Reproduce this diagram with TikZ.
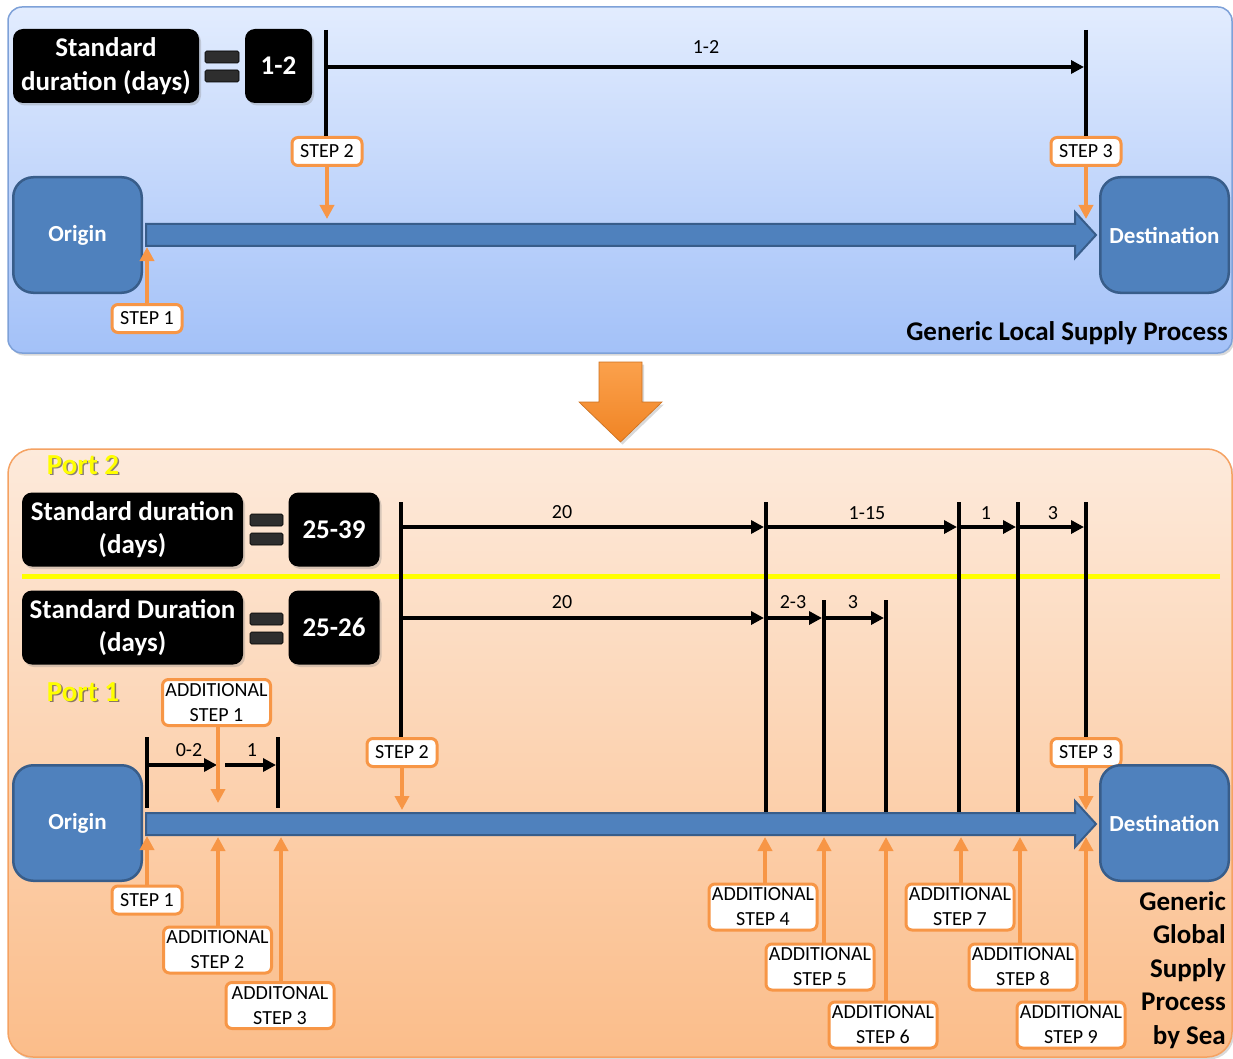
\documentclass[tikz,border=0pt]{standalone}
\usepackage{fontspec}
\setmainfont{Carlito}
\usetikzlibrary{arrows.meta,shadows,calc}

\definecolor{procblue}{HTML}{4F81BD}
\definecolor{procedge}{HTML}{385D8A}
\definecolor{steporange}{HTML}{F79646}
\definecolor{localtop}{HTML}{E2ECFE}
\definecolor{localbot}{HTML}{A3C1F8}
\definecolor{localedge}{HTML}{7EA1D8}
\definecolor{globaltop}{HTML}{FDEADB}
\definecolor{globalbot}{HTML}{FBBD8A}
\definecolor{globaledge}{HTML}{F5A262}
\definecolor{portyellow}{HTML}{FFFF00}
\definecolor{downtop}{HTML}{FBA14C}
\definecolor{downbot}{HTML}{F08424}

\tikzset{
  fsbig/.style={font=\bfseries\fontsize{27}{33.5}\selectfont},
  softshadow/.style={drop shadow={shadow xshift=2pt,shadow yshift=-2.5pt,opacity=.3}},
  durbox/.style={fill=black, rounded corners=10pt, text=white, align=center,
    inner sep=0pt, fsbig, softshadow},
  eqbar/.style={fill=black!82, draw=black, line width=.6pt, rounded corners=1.5pt},
  site/.style={fill=procblue, draw=procedge, line width=2.5pt, rounded corners=20pt,
    minimum width=128.5pt, minimum height=115.5pt, text=white,
    font=\bfseries\fontsize{23}{28}\selectfont, inner sep=0pt},
  flow/.style={fill=procblue, draw=procedge, line width=2pt, line join=miter},
  tick/.style={line width=4pt},
  span/.style={line width=4pt, -{Triangle[length=13pt,width=13pt]}},
  spanlabel/.style={font=\fontsize{20}{24}\selectfont, inner sep=0pt},
  steptag/.style={draw=steporange, line width=3pt, fill=white, rounded corners=6pt,
    font=\fontsize{20}{25}\selectfont, align=center, inner sep=0pt,
    minimum width=70pt, minimum height=28pt},
  addtag/.style={steptag, minimum width=108pt, minimum height=46pt},
  steparrow/.style={draw=steporange, line width=4pt, -{Triangle[length=14pt,width=14pt]}},
  portname/.style={font=\bfseries\fontsize{29}{34}\selectfont, text=portyellow, inner sep=0pt},
  portshade/.style={font=\bfseries\fontsize{29}{34}\selectfont, text=black, opacity=.45, inner sep=0pt},
}

\begin{document}
\begin{tikzpicture}[x=1pt,y=-1pt]
\useasboundingbox (0,0) rectangle (1233,1059);

% ---------------- local supply process ----------------
\path[top color=localtop, bottom color=localbot, draw=localedge, line width=1.5pt,
  rounded corners=14pt, softshadow] (8,7) rectangle (1232,353);

\node[durbox, minimum width=186pt, minimum height=74pt] (lsd) at (106,66) {Standard\\duration (days)};
\path[eqbar] (205,51) rectangle (239,63);
\path[eqbar] (205,70) rectangle (239,82);
\node[durbox, minimum width=67pt, minimum height=74pt] (lval) at (278.5,66) {1-2};

\node[steptag] (ls2) at (327,151.5) {STEP 2};
\node[steptag] (ls3) at (1086,151.5) {STEP 3};
\node[steptag] (ls1) at (147,318.5) {STEP 1};

\coordinate (l2top) at (326,30);
\coordinate (l3top) at (1086,30);
\draw[tick] (l2top) -- (l2top |- ls2.north);
\draw[tick] (l3top) -- (l3top |- ls3.north);
\coordinate (l2a) at (326,67);
\coordinate (l3a) at (1084,67);
\draw[span] (l2a) -- (l3a);
\node[spanlabel] (ldur) at (706,47) {1-2};

\node[site] (lorig) at (77.5,235) {Origin};
\node[site] (ldest) at (1164.5,235) {Destination};
\draw[flow] (146,224) -- (1075,224) -- (1075,212) -- (1096,235) -- (1075,258)
  -- (1075,246) -- (146,246) -- cycle;

\coordinate (lf1) at (147,247);
\coordinate (lf2) at (327,219);
\coordinate (lf3) at (1086,219);
\draw[steparrow] (ls1.north) -- (lf1);
\draw[steparrow] (ls2.south) -- (lf2);
\draw[steparrow] (ls3.south) -- (lf3);

\node[fsbig, inner sep=0pt, anchor=east] (lname) at (1228,333) {Generic Local Supply Process};

% ---------------- transition arrow ----------------
\path[top color=downtop, bottom color=downbot, draw=downbot!85!black, line width=.6pt,
  softshadow] (599,362) -- (642,362) -- (642,402) -- (662,402) -- (620.5,442)
  -- (579,402) -- (599,402) -- cycle;

% ---------------- global supply process ----------------
\path[top color=globaltop, bottom color=globalbot, draw=globaledge, line width=1.5pt,
  rounded corners=25pt, softshadow] (8,449) rectangle (1232,1057);

\node[portshade] (p2shade) at (84.5,466.5) {Port 2};
\node[portname] (p2) at (83,465) {Port 2};
\node[portshade] (p1shade) at (84.5,693.5) {Port 1};
\node[portname] (p1) at (83,692) {Port 1};

\node[durbox, minimum width=221pt, minimum height=74pt] (gsd2) at (132.5,529.5) {Standard duration\\(days)};
\path[eqbar] (250,514) rectangle (283,526);
\path[eqbar] (250,533) rectangle (283,545);
\node[durbox, minimum width=91pt, minimum height=74pt] (gval2) at (334,529.5) {25-39};

\coordinate (yl) at (22,576);
\coordinate (yr) at (1220,576);
\draw[line width=5pt, portyellow] (yl) -- (yr);

\node[durbox, minimum width=221pt, minimum height=74pt] (gsd1) at (132.5,627.5) {Standard Duration\\(days)};
\path[eqbar] (250,613) rectangle (283,625);
\path[eqbar] (250,632) rectangle (283,644);
\node[durbox, minimum width=91pt, minimum height=74pt] (gval1) at (334,627.5) {25-26};

% step tags
\node[steptag] (gs2) at (402,752.5) {STEP 2};
\node[steptag] (gs3) at (1086,752.5) {STEP 3};
\node[steptag] (gs1) at (147,900) {STEP 1};
\node[addtag] (ga1) at (216.5,702.5) {ADDITIONAL\\STEP 1};
\node[addtag] (ga2) at (217.5,950) {ADDITIONAL\\STEP 2};
\node[addtag] (ga3) at (280,1005.5) {ADDITONAL\\STEP 3};
\node[addtag] (ga4) at (763,907) {ADDITIONAL\\STEP 4};
\node[addtag] (ga5) at (820,967) {ADDITIONAL\\STEP 5};
\node[addtag] (ga6) at (883,1025) {ADDITIONAL\\STEP 6};
\node[addtag] (ga7) at (960,907) {ADDITIONAL\\STEP 7};
\node[addtag] (ga8) at (1023,967) {ADDITIONAL\\STEP 8};
\node[addtag] (ga9) at (1071,1025) {ADDITIONAL\\STEP 9};

% milestone ticks
\coordinate (t2) at (401,502);
\coordinate (t4) at (766,502);
\coordinate (t7) at (959,502);
\coordinate (t8) at (1018,502);
\coordinate (t3) at (1086,502);
\coordinate (t5) at (824,600);
\coordinate (t6) at (886,600);
\draw[tick] (t2) -- (t2 |- gs2.north);
\draw[tick] (t3) -- (t3 |- gs3.north);
\draw[tick] (t4) -- ++(0,310);
\draw[tick] (t7) -- ++(0,310);
\draw[tick] (t8) -- ++(0,310);
\draw[tick] (t5) -- ++(0,212);
\draw[tick] (t6) -- ++(0,212);

% port 2 durations
\draw[span] (401,527) -- (764,527);
\draw[span] (766,527) -- (957,527);
\draw[span] (959,527) -- (1016,527);
\draw[span] (1018,527) -- (1084,527);
\node[spanlabel] (d20a) at (562,512) {20};
\node[spanlabel] (d115) at (867,513) {1-15};
\node[spanlabel] (d1a) at (986,513) {1};
\node[spanlabel] (d3a) at (1053,513) {3};

% port 1 durations
\draw[span] (401,618) -- (764,618);
\draw[span] (766,618) -- (822,618);
\draw[span] (824,618) -- (884,618);
\node[spanlabel] (d20b) at (562,602) {20};
\node[spanlabel] (d23) at (793,602) {2-3};
\node[spanlabel] (d3b) at (853,602) {3};

% pre-carriage durations
\coordinate (t0) at (147,737);
\coordinate (ta) at (278,737);
\draw[tick] (t0) -- ++(0,71);
\draw[tick] (ta) -- ++(0,71);
\draw[span] (147,765) -- (217,765);
\draw[span] (225,765) -- (276,765);
\node[spanlabel] (d02) at (189,750) {0-2};
\node[spanlabel] (d1b) at (252,750) {1};

% origin, flow and destination
\node[site] (gorig) at (77.5,823) {Origin};
\node[site] (gdest) at (1164.5,823) {Destination};
\draw[flow] (146,813) -- (1075,813) -- (1075,801) -- (1096,824) -- (1075,847)
  -- (1075,835) -- (146,835) -- cycle;

% step arrows
\coordinate (gx1) at (218,803);
\coordinate (gs2t) at (402,810);
\coordinate (gs3t) at (1086,810);
\coordinate (gs1t) at (147,836);
\coordinate (gy2) at (218,837);
\coordinate (gy3) at (281,837);
\coordinate (gy4) at (765,837);
\coordinate (gy5) at (824,837);
\coordinate (gy6) at (886,837);
\coordinate (gy7) at (961,837);
\coordinate (gy8) at (1020,837);
\coordinate (gy9) at (1086,837);
\draw[steparrow] (ga1.south -| gx1) -- (gx1);
\draw[steparrow] (gs2.south) -- (gs2t);
\draw[steparrow] (gs3.south) -- (gs3t);
\draw[steparrow] (gs1.north) -- (gs1t);
\draw[steparrow] (ga2.north -| gy2) -- (gy2);
\draw[steparrow] (ga3.north -| gy3) -- (gy3);
\draw[steparrow] (ga4.north -| gy4) -- (gy4);
\draw[steparrow] (ga5.north -| gy5) -- (gy5);
\draw[steparrow] (ga6.north -| gy6) -- (gy6);
\draw[steparrow] (ga7.north -| gy7) -- (gy7);
\draw[steparrow] (ga8.north -| gy8) -- (gy8);
\draw[steparrow] (ga9.north -| gy9) -- (gy9);

\node[fsbig, inner sep=0pt, anchor=east, align=right] (gname) at (1226,970)
  {Generic\\Global\\Supply\\Process\\by Sea};

\end{tikzpicture}
\end{document}
